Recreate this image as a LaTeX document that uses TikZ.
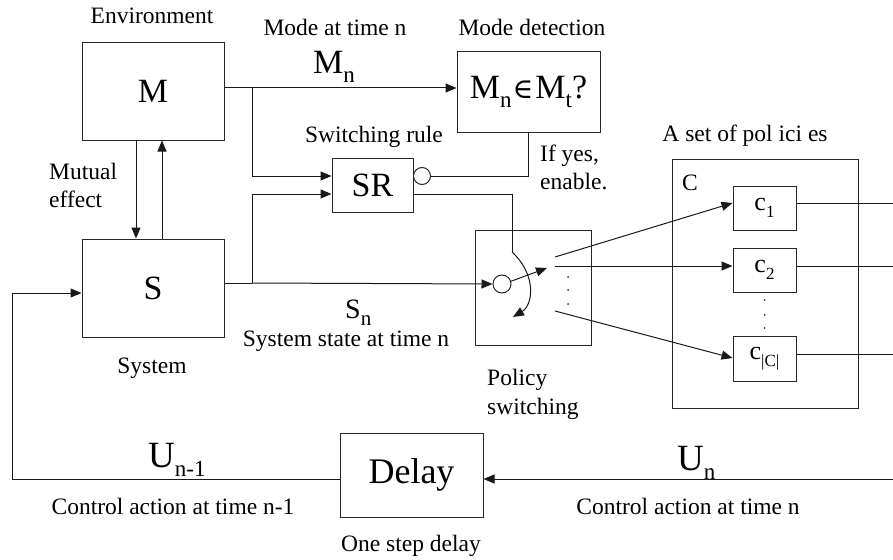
\documentclass[tikz,border=0pt]{standalone}
\usepackage{fontspec}
\setmainfont{Liberation Serif}
\newfontfamily\symfont{DejaVu Serif}
\usetikzlibrary{arrows.meta,calc}

\newcommand{\normtxt}{\fontsize{23.5}{28}\selectfont}
\newcommand{\bigtxt}{\fontsize{34}{38}\selectfont}
\newcommand{\lowsub}[1]{\raisebox{-9pt}{\fontsize{23}{23}\selectfont #1}}

\tikzset{
  box/.style={draw=black!85, line width=1pt, inner sep=0pt, rectangle},
  wire/.style={draw=black!90, line width=1pt},
  arr/.style={wire, -{Triangle[length=11pt,width=9pt]}},
  lbl/.style={inner sep=0pt, font=\normtxt},
  dotc/.style={circle, fill=black!80, inner sep=0pt, minimum size=2pt},
}

\begin{document}
\begin{tikzpicture}[x=1pt,y=-1pt]
\useasboundingbox (0,0) rectangle (893,559);

% main blocks
\node[box, minimum width=142pt, minimum height=97pt, font=\bigtxt] (M) at (153,91.5) {M};
\node[box, minimum width=142pt, minimum height=98pt, font=\bigtxt] (S) at (153,288) {S};
\node[box, minimum width=143pt, minimum height=80pt, font=\bigtxt] (MD) at (528.5,92) {M\lowsub{n}\kern1pt{\symfont\fontsize{28}{32}\selectfont ∈}\kern2pt M\lowsub{t}?};
\node[box, minimum width=81pt, minimum height=54pt, font=\bigtxt] (SR) at (372.5,185) {SR};
\node[box, minimum width=116pt, minimum height=115pt] (PS) at (533,287.5) {};
\node[box, minimum width=186pt, minimum height=249pt] (CB) at (765,283.5) {};
\node[box, minimum width=63pt, minimum height=44pt, font=\fontsize{26}{28}\selectfont] (c1) at (764.5,208) {c\raisebox{-7pt}{\fontsize{17}{17}\selectfont 1}};
\node[box, minimum width=63pt, minimum height=44pt, font=\fontsize{26}{28}\selectfont] (c2) at (764.5,270) {c\raisebox{-7pt}{\fontsize{17}{17}\selectfont 2}};
\node[box, minimum width=63pt, minimum height=45pt, font=\fontsize{26}{28}\selectfont] (c3) at (764.5,359) {c\raisebox{-7pt}{\fontsize{17}{17}\selectfont |C|}};
\node[box, minimum width=143pt, minimum height=84pt, font=\fontsize{36}{40}\selectfont] (DL) at (411.5,475) {Delay};

% small circles: enable input of SR and switch pivot
\node[draw=black!85, line width=1pt, circle, minimum size=17pt, inner sep=0pt] (inv) at (422,176) {};
\node[draw=black!85, line width=1pt, circle, minimum size=18pt, inner sep=0pt] (sw) at (502,284) {};

% junctions and free ends
\coordinate (jm) at (252,88);
\coordinate (js) at (252,283);
\coordinate (swtop) at (512,252);
\coordinate (swend) at (513,317);
\coordinate (arm) at (547,268);
\coordinate (f1) at (555,257);
\coordinate (f2) at (555,266);
\coordinate (f3) at (555,311);
\coordinate (edge) at (893,479);
\coordinate (fb) at (12,479);

% mode and state signals
\draw[wire] (M.east |- jm) -- (jm);
\draw[arr] (jm) -- (MD.west |- jm);
\draw[arr] (jm) |- ($(SR.west)+(0,-9)$);
\draw[wire] (S.east |- js) -- (js);
\draw[arr] (js) -- (sw.west);
\draw[arr] (js) |- ($(SR.west)+(0,9)$);

% mutual effect
\draw[arr] ($(M.south)+(-17,0)$) -- ($(S.north)+(-17,0)$);
\draw[arr] ($(S.north)+(9,0)$) -- ($(M.south)+(9,0)$);

% enable from mode detection
\draw[wire] (inv.east) -| (MD.south);

% switching rule drives the switch
\draw[wire] ($(SR.east)+(0,9)$) -| (swtop);
\draw[arr] (swtop) .. controls (537,275) and (533,305) .. (swend);
\draw[arr] (sw.17) -- (arm);
\node[dotc] (d1) at (568,277) {};
\node[dotc] (d2) at (568,290) {};
\node[dotc] (d3) at (568,304) {};

% fan-out to the policies
\draw[arr] (f1) -- ($(c1.west)+(0,-5)$);
\draw[arr] (f2) -- ($(c2.west)+(0,-4)$);
\draw[arr] (f3) -- ($(c3.west)+(0,-1)$);
\node[dotc] (e1) at (764.5,300) {};
\node[dotc] (e2) at (764.5,315) {};
\node[dotc] (e3) at (764.5,328) {};

% policy outputs
\draw[wire] ($(c1.east)+(0,-5)$) -- (edge |- {$(c1.east)+(0,-5)$});
\draw[wire] ($(c2.east)+(0,-4)$) -- (edge |- {$(c2.east)+(0,-4)$});
\draw[wire] ($(c3.east)+(0,-5)$) -- (edge |- {$(c3.east)+(0,-5)$});

% control feedback through the delay
\draw[arr] (edge) -- (DL.east |- edge);
\draw[wire] (DL.west |- edge) -- (fb);
\draw[arr] (fb) |- ($(S.west)+(0,5)$);

% labels
\node[lbl, anchor=base] (tenv) at (152,24) {Environment};
\node[lbl, anchor=base] (tmode) at (335,36) {Mode at time n};
\node[lbl, anchor=base] (tmd) at (532,36) {Mode detection};
\node[inner sep=0pt, anchor=base west, font=\bigtxt] (tmn) at (313,74) {M\lowsub{n}};
\node[lbl, anchor=base] (tsr) at (374,142) {Switching rule};
\node[lbl, anchor=base west] (tif) at (540,161) {If yes,};
\node[lbl, anchor=base west] (ten) at (540,189) {enable.};
\node[lbl, anchor=base west] (tmu) at (49,179) {Mutual};
\node[lbl, anchor=base west] (tef) at (49,207) {effect};
\node[lbl, anchor=base] (tsys) at (152,373) {System};
\node[inner sep=0pt, anchor=base west, font=\fontsize{28}{30}\selectfont] (tsn) at (345,318) {S\raisebox{-7pt}{\fontsize{21}{21}\selectfont n}};
\node[lbl, anchor=base] (tss) at (346,346) {System state at time n};
\node[lbl, anchor=base west] (tpo) at (487,385) {Policy};
\node[lbl, anchor=base west] (tpsw) at (487,414) {switching};
\node[lbl, anchor=base] (tset) at (745,141) {A set of pol ici es};
\node[lbl, anchor=base west] (tc) at (682,190) {C};
\node[inner sep=0pt, anchor=base west, font=\fontsize{37}{40}\selectfont] (tun1) at (148,467) {U\lowsub{n-1}};
\node[inner sep=0pt, anchor=base west, font=\fontsize{37}{40}\selectfont] (tun) at (677,470) {U\lowsub{n}};
\node[lbl, anchor=base] (tca1) at (173,514) {Control action at time n-1};
\node[lbl, anchor=base] (tca) at (688,514) {Control action at time n};
\node[lbl, anchor=base] (tone) at (411,551) {One step delay};
\end{tikzpicture}
\end{document}
